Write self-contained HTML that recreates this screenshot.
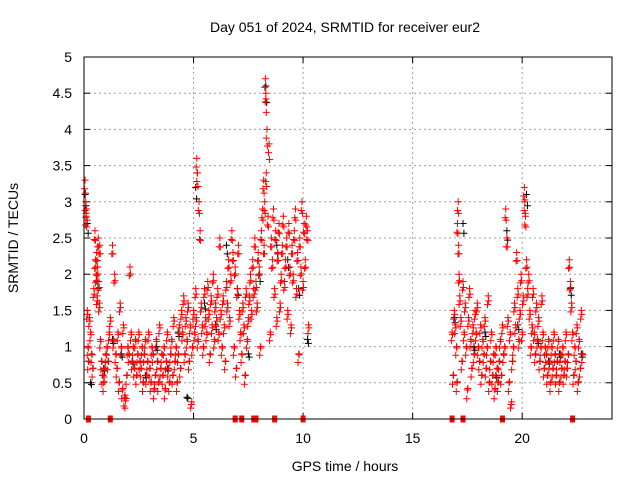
<!DOCTYPE html>
<html><head><meta charset="utf-8"><style>
body{margin:0;background:#fff;}
svg{display:block;font-family:"Liberation Sans",sans-serif;}
</style></head><body>
<svg id="chart" width="640" height="480" viewBox="0 0 640 480">
<rect width="640" height="480" fill="#fff"/>
<text x="345" y="32" font-size="14" text-anchor="middle">Day 051 of 2024, SRMTID for receiver eur2</text>
<text x="345" y="471" font-size="14" text-anchor="middle">GPS time / hours</text>
<text transform="translate(18,238) rotate(-90)" font-size="14" text-anchor="middle">SRMTID / TECUs</text>
<g id="grid"></g>
<g id="axes"></g>
<g id="black"></g>
<g id="red"></g>
<g id="marks"></g>
<rect x="84" y="57" width="528" height="362" fill="none" stroke="#000" stroke-width="1"/>
</svg>
<script>
const xTicks=[0,5,10,15,20];
const yTicks=[0,0.5,1,1.5,2,2.5,3,3.5,4,4.5,5];
const yTickLabels=["0","0.5","1","1.5","2","2.5","3","3.5","4","4.5","5"];
const redT=[0.05,0.08,0.1,0.12,0.15,0.18,0.2,0.25,0.3,0.35,0.4,0.45,0.5,0.52,0.55,0.58,0.6,0.62,0.65,0.68,0.7,0.72,0.75,0.8,0.85,0.9,0.95,1.0,1.05,1.1,1.15,1.2,1.3,1.35,1.4,1.45,1.5,1.55,1.6,1.65,1.7,1.75,1.8,1.85,1.9,1.95,2.0,2.05,2.1,2.15,2.2,2.25,2.3,2.35,2.4,2.45,2.5,2.55,2.6,2.65,2.7,2.75,2.8,2.85,2.9,2.95,3.0,3.05,3.1,3.15,3.2,3.25,3.3,3.35,3.4,3.45,3.5,3.55,3.6,3.65,3.7,3.75,3.8,3.85,3.9,3.95,4.0,4.05,4.1,4.15,4.2,4.25,4.3,4.35,4.4,4.45,4.5,4.55,4.6,4.65,4.7,4.75,4.8,4.85,4.9,4.95,5.0,5.05,5.1,5.12,5.15,5.18,5.2,5.25,5.3,5.35,5.4,5.45,5.5,5.55,5.6,5.65,5.7,5.75,5.8,5.85,5.9,5.95,6.0,6.05,6.1,6.15,6.2,6.25,6.3,6.35,6.4,6.45,6.5,6.55,6.6,6.65,6.7,6.75,6.8,6.85,6.9,6.95,7.0,7.05,7.1,7.15,7.2,7.25,7.3,7.35,7.4,7.45,7.5,7.55,7.6,7.65,7.7,7.75,7.8,7.85,7.9,7.95,8.0,8.05,8.1,8.15,8.2,8.22,8.25,8.28,8.3,8.32,8.35,8.4,8.45,8.5,8.55,8.6,8.65,8.7,8.75,8.8,8.85,8.9,8.95,9.0,9.05,9.1,9.15,9.2,9.25,9.3,9.35,9.4,9.45,9.5,9.55,9.6,9.65,9.7,9.75,9.8,9.85,9.9,9.95,10.0,10.05,10.1,10.15,10.2,10.25,
16.8,16.85,16.9,16.95,17.0,17.02,17.05,17.08,17.1,17.12,17.15,17.2,17.25,17.3,17.35,17.4,17.45,17.5,17.55,17.6,17.65,17.7,17.75,17.8,17.85,17.9,17.95,18.0,18.05,18.1,18.15,18.2,18.25,18.3,18.35,18.4,18.45,18.5,18.55,18.6,18.65,18.7,18.75,18.8,18.85,18.9,18.95,19.0,19.05,19.1,19.15,19.2,19.25,19.3,19.35,19.4,19.45,19.5,19.55,19.6,19.65,19.7,19.75,19.8,19.85,19.9,19.95,20.0,20.05,20.1,20.12,20.15,20.2,20.25,20.3,20.35,20.4,20.45,20.5,20.55,20.6,20.65,20.7,20.75,20.8,20.85,20.9,20.95,21.0,21.05,21.1,21.15,21.2,21.25,21.3,21.35,21.4,21.45,21.5,21.55,21.6,21.65,21.7,21.75,21.8,21.85,21.9,21.95,22.0,22.05,22.1,22.15,22.2,22.25,22.3,22.35,22.4,22.45,22.5,22.55,22.6,22.65,22.7,22.75];
const redV=[3.3,3.0,2.8,2.9,1.5,1.0,0.8,1.4,1.2,0.9,0.7,1.8,2.6,2.2,2.0,2.3,1.7,2.1,2.5,1.9,1.6,2.4,1.1,0.8,0.6,0.5,0.7,0.9,1.0,0.8,1.2,1.4,2.4,1.1,2.0,0.9,0.7,1.2,0.5,1.6,1.0,0.4,1.3,0.3,0.25,0.6,1.0,0.9,2.1,1.2,0.8,1.0,0.7,1.1,0.6,0.9,1.2,0.8,0.7,1.0,0.5,0.9,1.1,0.6,0.8,1.2,0.7,0.5,1.0,0.9,0.4,0.6,1.1,0.8,0.5,1.3,0.7,0.9,0.6,1.0,0.4,0.8,1.2,0.7,0.5,0.9,1.1,0.6,1.4,0.8,1.0,0.5,0.9,1.3,0.7,1.5,1.2,1.7,0.9,1.4,1.1,1.6,0.8,1.3,0.2,1.0,1.5,1.2,1.8,1.4,3.6,3.4,1.1,3.0,2.6,1.6,1.3,1.0,1.8,1.4,1.2,1.9,1.5,0.9,1.7,1.3,2.0,1.1,1.6,1.4,1.8,1.2,2.5,1.5,1.0,1.7,1.3,0.8,1.9,1.6,2.2,1.4,2.0,2.6,2.3,1.0,2.1,0.7,1.8,2.4,1.5,1.2,0.9,1.6,1.3,0.6,1.8,1.1,1.4,1.7,2.0,1.5,2.2,1.8,2.5,1.9,1.6,2.3,2.1,1.0,2.6,2.9,3.3,2.4,3.0,4.7,4.5,3.4,4.0,2.8,3.8,1.2,2.5,2.2,2.9,1.8,2.6,1.4,2.3,2.7,1.6,2.0,2.4,2.8,1.9,2.2,2.5,1.5,2.7,2.1,1.3,2.4,2.0,2.6,2.9,1.8,2.3,0.9,2.5,2.1,3.0,1.9,2.7,2.2,2.8,2.6,1.3,1.2,0.6,
1.5,1.3,1.0,0.5,2.7,3.0,2.4,2.0,1.7,1.4,0.8,1.9,1.2,1.6,1.0,0.4,1.4,1.8,1.1,0.7,1.3,0.9,1.5,1.2,1.6,1.0,0.8,1.3,0.6,1.1,0.9,1.4,0.7,1.0,1.7,0.5,0.8,1.2,0.6,0.9,0.4,1.0,0.7,0.5,0.8,1.1,0.6,1.3,0.9,1.0,2.9,2.5,1.4,0.5,1.2,0.2,0.8,1.0,1.6,1.3,2.3,1.8,1.1,1.5,2.0,1.2,1.7,3.2,3.0,2.8,2.2,1.8,2.0,1.5,1.0,1.3,1.8,1.2,0.9,1.6,1.1,1.4,0.8,1.0,1.7,1.2,0.7,1.0,0.9,0.6,1.1,0.8,0.5,1.0,0.7,1.2,0.9,0.6,0.8,1.1,0.5,0.9,0.7,1.0,0.6,0.8,1.2,0.7,0.9,2.2,1.9,1.6,1.2,0.6,1.0,0.8,1.3,0.5,1.1,0.7,1.5,0.9,0.6,1.2,1.4];
const blackT=[0.05,0.15,0.3,0.6,0.9,1.3,1.7,2.2,2.8,3.3,3.8,4.3,4.7,5.1,5.5,6.0,6.5,7.0,7.5,8.0,8.3,8.8,9.3,9.8,10.2,16.9,17.3,17.8,18.3,18.8,19.3,19.8,20.2,20.7,21.2,21.7,22.2,22.7];
const blackV=[3.1,2.7,0.5,1.9,0.7,1.1,0.9,0.8,0.6,1.0,0.7,1.2,0.3,3.2,1.6,1.3,2.4,1.8,0.9,2.0,4.6,2.4,2.2,1.8,1.1,1.4,2.7,1.0,1.2,0.6,2.6,1.3,3.1,1.1,0.8,0.9,1.8,0.9];
const markT=[0.2,1.2,6.9,7.2,7.75,7.85,8.7,10.0,16.8,17.3,19.1,22.3];
const X0=84,X1=612,Y0=419,Y1=57,XMAX=24.1,YMAX=5;
function sx(t){return X0+(X1-X0)*t/XMAX;}
function sy(v){return Y0-(Y0-Y1)*v/YMAX;}
const NS="http://www.w3.org/2000/svg";
function mk(tag,attrs,parent){const e=document.createElementNS(NS,tag);for(const k in attrs)e.setAttribute(k,attrs[k]);parent.appendChild(e);return e;}
const grid=document.getElementById('grid'),axes=document.getElementById('axes');
xTicks.forEach((t,i)=>{const x=sx(t);
 if(t>0){const g=mk('line',{x1:x,x2:x,y1:Y1,y2:Y0,stroke:'#a0a0a0','stroke-dasharray':'2,3'},grid);}
 const tk=mk('line',{x1:x,x2:x,y1:Y0,y2:Y0-6,stroke:'#000'},axes);
 const tk2=mk('line',{x1:x,x2:x,y1:Y1,y2:Y1+6,stroke:'#000'},axes);
 const l=mk('text',{x:x,y:Y0+24,'font-size':14,'text-anchor':'middle'},axes);l.textContent=String(t);});
yTicks.forEach((v,i)=>{const y=sy(v);
 if(v>0&&v<YMAX){const g=mk('line',{x1:X0,x2:X1,y1:y,y2:y,stroke:'#a0a0a0','stroke-dasharray':'2,3'},grid);}
 const tk=mk('line',{x1:X0,x2:X0+6,y1:y,y2:y,stroke:'#000'},axes);
 const tk2=mk('line',{x1:X1,x2:X1-6,y1:y,y2:y,stroke:'#000'},axes);
 const l=mk('text',{x:X0-12,y:y+5,'font-size':14,'text-anchor':'end'},axes);l.textContent=yTickLabels[i];});
function plus(g,t,v,c,name){const x=sx(t),y=sy(v);const p=mk('path',{d:`M${x-3.5},${y}h7M${x},${y-3.5}v7`,stroke:c,'stroke-width':1,fill:'none'},g);}
const bg=document.getElementById('black');blackT.forEach((t,i)=>{plus(bg,t,blackV[i],'#000','black-point');plus(bg,t+0.04,blackV[i]*0.95,'#000','black-point');});
const rg=document.getElementById('red');redT.forEach((t,i)=>{plus(rg,t,redV[i],'#f00','red-point');plus(rg,t+0.02,redV[i]*0.93+0.05,'#f00','red-point');plus(rg,t-0.03,Math.max(0.15,redV[i]-0.12),'#f00','red-point');});
const mg=document.getElementById('marks');markT.forEach(t=>{const r=mk('rect',{x:sx(t)-2.5,y:Y0-3.5,width:5,height:7,fill:'#f00'},mg);});
</script>
</body></html>
